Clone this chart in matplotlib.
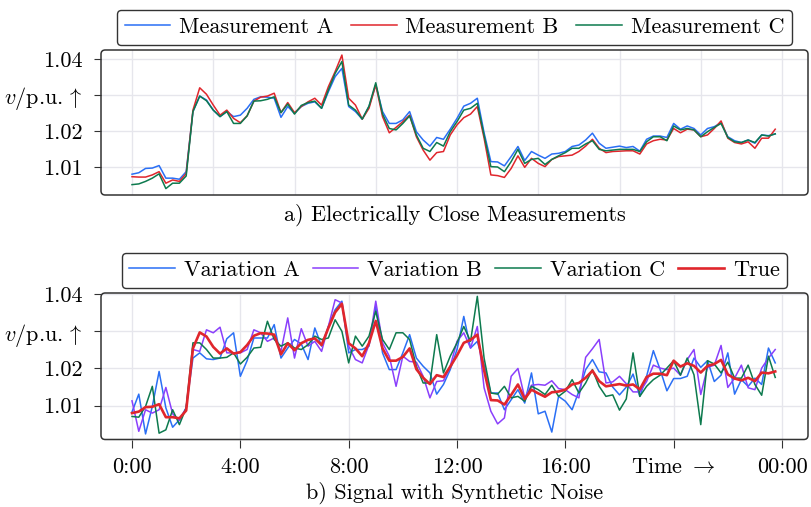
import numpy as np
import matplotlib
matplotlib.use("Agg")
import matplotlib.pyplot as plt
from matplotlib.patches import FancyBboxPatch

plt.rcParams['font.family'] = 'cmr10'
plt.rcParams['mathtext.fontset'] = 'cm'
plt.rcParams['axes.unicode_minus'] = False
plt.rcParams['axes.formatter.use_mathtext'] = True

# 15 minute samples over one day
hours = np.arange(96) / 4

# a) three measurements at electrically close nodes
meas_a = [1.0080, 1.0084, 1.0096, 1.0097, 1.0104, 1.0069, 1.0069, 1.0066, 1.0087, 1.0254,
          1.0297, 1.0286, 1.0258, 1.0240, 1.0254, 1.0240, 1.0244, 1.0263, 1.0288, 1.0295,
          1.0294, 1.0291, 1.0238, 1.0268, 1.0249, 1.0268, 1.0277, 1.0281, 1.0263, 1.0309,
          1.0351, 1.0374, 1.0268, 1.0254, 1.0233, 1.0268, 1.0328, 1.0254, 1.0221, 1.0221,
          1.0231, 1.0254, 1.0198, 1.0175, 1.0158, 1.0182, 1.0177, 1.0205, 1.0235, 1.0269,
          1.0277, 1.0291, 1.0195, 1.0115, 1.0114, 1.0103, 1.0129, 1.0157, 1.0118, 1.0143,
          1.0133, 1.0124, 1.0136, 1.0138, 1.0143, 1.0157, 1.0161, 1.0175, 1.0194, 1.0166,
          1.0152, 1.0155, 1.0158, 1.0154, 1.0157, 1.0144, 1.0177, 1.0186, 1.0186, 1.0182,
          1.0221, 1.0205, 1.0214, 1.0207, 1.0189, 1.0207, 1.0212, 1.0223, 1.0184, 1.0173,
          1.0168, 1.0175, 1.0166, 1.0189, 1.0187, 1.0192]
meas_b = [1.0073, 1.0072, 1.0072, 1.0078, 1.0087, 1.0055, 1.0064, 1.0060, 1.0082, 1.0258,
          1.0320, 1.0302, 1.0272, 1.0244, 1.0258, 1.0235, 1.0223, 1.0242, 1.0283, 1.0294,
          1.0297, 1.0305, 1.0251, 1.0279, 1.0251, 1.0268, 1.0281, 1.0291, 1.0272, 1.0323,
          1.0365, 1.0411, 1.0291, 1.0272, 1.0233, 1.0263, 1.0328, 1.0240, 1.0195, 1.0210,
          1.0226, 1.0244, 1.0184, 1.0147, 1.0119, 1.0140, 1.0143, 1.0189, 1.0217, 1.0237,
          1.0247, 1.0268, 1.0180, 1.0078, 1.0076, 1.0071, 1.0096, 1.0131, 1.0099, 1.0124,
          1.0110, 1.0101, 1.0121, 1.0129, 1.0131, 1.0133, 1.0143, 1.0158, 1.0177, 1.0152,
          1.0140, 1.0143, 1.0144, 1.0145, 1.0145, 1.0136, 1.0164, 1.0173, 1.0177, 1.0175,
          1.0207, 1.0195, 1.0205, 1.0203, 1.0184, 1.0189, 1.0207, 1.0228, 1.0180, 1.0168,
          1.0164, 1.0170, 1.0152, 1.0180, 1.0180, 1.0205]
meas_c = [1.0051, 1.0053, 1.0060, 1.0069, 1.0081, 1.0040, 1.0055, 1.0055, 1.0075, 1.0254,
          1.0297, 1.0284, 1.0258, 1.0240, 1.0254, 1.0221, 1.0221, 1.0242, 1.0283, 1.0284,
          1.0288, 1.0295, 1.0251, 1.0275, 1.0247, 1.0271, 1.0279, 1.0283, 1.0263, 1.0314,
          1.0360, 1.0393, 1.0272, 1.0258, 1.0233, 1.0269, 1.0334, 1.0247, 1.0207, 1.0203,
          1.0221, 1.0242, 1.0189, 1.0152, 1.0143, 1.0168, 1.0158, 1.0198, 1.0226, 1.0258,
          1.0263, 1.0277, 1.0188, 1.0101, 1.0100, 1.0087, 1.0115, 1.0149, 1.0110, 1.0121,
          1.0124, 1.0107, 1.0121, 1.0131, 1.0140, 1.0152, 1.0152, 1.0164, 1.0173, 1.0149,
          1.0145, 1.0147, 1.0149, 1.0149, 1.0149, 1.0143, 1.0170, 1.0184, 1.0184, 1.0173,
          1.0214, 1.0203, 1.0207, 1.0203, 1.0184, 1.0198, 1.0210, 1.0221, 1.0182, 1.0170,
          1.0168, 1.0175, 1.0168, 1.0189, 1.0186, 1.0192]

# b) noisy variations of the true signal
true_v = list(meas_a)
var_a = [1.0083, 1.0131, 1.0024, 1.0098, 1.0192, 1.0094, 1.0042, 1.0062, 1.0094, 1.0228,
         1.0242, 1.0226, 1.0224, 1.0228, 1.0280, 1.0296, 1.0179, 1.0221, 1.0282, 1.0282,
         1.0282, 1.0318, 1.0228, 1.0255, 1.0278, 1.0266, 1.0224, 1.0309, 1.0260, 1.0313,
         1.0358, 1.0381, 1.0242, 1.0251, 1.0251, 1.0260, 1.0367, 1.0242, 1.0197, 1.0197,
         1.0242, 1.0291, 1.0228, 1.0206, 1.0188, 1.0131, 1.0157, 1.0197, 1.0251, 1.0340,
         1.0255, 1.0273, 1.0210, 1.0134, 1.0134, 1.0089, 1.0116, 1.0143, 1.0107, 1.0188,
         1.0078, 1.0085, 1.0029, 1.0125, 1.0112, 1.0089, 1.0139, 1.0197, 1.0224, 1.0191,
         1.0188, 1.0150, 1.0129, 1.0150, 1.0185, 1.0125, 1.0179, 1.0248, 1.0197, 1.0140,
         1.0173, 1.0173, 1.0179, 1.0228, 1.0203, 1.0221, 1.0165, 1.0182, 1.0242, 1.0131,
         1.0170, 1.0152, 1.0174, 1.0157, 1.0255, 1.0215]
var_b = [1.0113, 1.0031, 1.0089, 1.0080, 1.0089, 1.0149, 1.0078, 1.0060, 1.0094, 1.0251,
         1.0246, 1.0304, 1.0296, 1.0311, 1.0242, 1.0242, 1.0242, 1.0251, 1.0304, 1.0296,
         1.0273, 1.0282, 1.0246, 1.0336, 1.0228, 1.0307, 1.0260, 1.0273, 1.0246, 1.0313,
         1.0385, 1.0376, 1.0260, 1.0224, 1.0215, 1.0264, 1.0381, 1.0269, 1.0233, 1.0152,
         1.0233, 1.0219, 1.0217, 1.0179, 1.0121, 1.0165, 1.0167, 1.0206, 1.0273, 1.0296,
         1.0255, 1.0313, 1.0148, 1.0085, 1.0051, 1.0067, 1.0179, 1.0200, 1.0121, 1.0155,
         1.0157, 1.0155, 1.0167, 1.0146, 1.0143, 1.0130, 1.0121, 1.0230, 1.0253, 1.0278,
         1.0161, 1.0164, 1.0179, 1.0159, 1.0137, 1.0137, 1.0165, 1.0209, 1.0201, 1.0197,
         1.0201, 1.0182, 1.0224, 1.0251, 1.0130, 1.0203, 1.0209, 1.0262, 1.0149, 1.0174,
         1.0209, 1.0148, 1.0143, 1.0201, 1.0228, 1.0251]
var_c = [1.0071, 1.0069, 1.0098, 1.0152, 1.0026, 1.0035, 1.0089, 1.0049, 1.0094, 1.0269,
         1.0269, 1.0251, 1.0228, 1.0228, 1.0230, 1.0242, 1.0212, 1.0230, 1.0255, 1.0257,
         1.0327, 1.0278, 1.0260, 1.0269, 1.0255, 1.0251, 1.0264, 1.0287, 1.0278, 1.0282,
         1.0331, 1.0300, 1.0215, 1.0287, 1.0260, 1.0287, 1.0354, 1.0278, 1.0251, 1.0296,
         1.0296, 1.0278, 1.0206, 1.0161, 1.0161, 1.0291, 1.0188, 1.0233, 1.0269, 1.0313,
         1.0273, 1.0394, 1.0228, 1.0134, 1.0131, 1.0152, 1.0121, 1.0125, 1.0112, 1.0152,
         1.0143, 1.0130, 1.0155, 1.0125, 1.0139, 1.0170, 1.0134, 1.0161, 1.0197, 1.0152,
         1.0125, 1.0129, 1.0088, 1.0118, 1.0242, 1.0125, 1.0152, 1.0170, 1.0182, 1.0201,
         1.0221, 1.0182, 1.0228, 1.0183, 1.0049, 1.0221, 1.0212, 1.0188, 1.0217, 1.0174,
         1.0174, 1.0209, 1.0157, 1.0128, 1.0233, 1.0176]

BLUE = '#2a6ff5'
RED = '#e0262c'
GREEN = '#0d7a4e'
PURPLE = '#8a3ffc'
FS = 16

fig = plt.figure(figsize=(8.11, 5.07), dpi=100)
W, H = 811, 507
ax1 = fig.add_axes([101 / W, 1 - 195 / H, 707 / W, 145 / H])
ax2 = fig.add_axes([101 / W, 1 - 439.5 / H, 707 / W, 146.5 / H])


def style(ax, ylim):
    ax.set_xlim(-1.145, 24.96)
    ax.set_ylim(*ylim)
    ax.set_yticks([1.01, 1.02, 1.03, 1.04])
    ax.set_yticklabels(['1.01', '1.02', r'$v$/p.u.$\,\uparrow$', '1.04'])
    ax.grid(True, color='#e6e6ec', lw=1.0)
    ax.set_axisbelow(True)
    for s in ax.spines.values():
        s.set_visible(False)
    bb = ax.get_position()
    aspect = (bb.width * W) / (bb.height * H)
    frame = FancyBboxPatch((0, 0), 1, 1, boxstyle='round,pad=0,rounding_size=0.006',
                           mutation_aspect=aspect, transform=ax.transAxes,
                           fill=False, ec='#333333', lw=1.1, clip_on=False, zorder=5)
    ax.add_patch(frame)
    ax.tick_params(axis='y', length=5, width=0.8, pad=8, labelsize=FS, color='#333333')


style(ax1, (1.00222, 1.0425))
ax1.set_xticks(np.arange(0, 25, 3))
ax1.tick_params(axis='x', length=0, labelbottom=False)
ax1.plot(hours, meas_a, color=BLUE, lw=1.1, label='Measurement A')
ax1.plot(hours, meas_b, color=RED, lw=1.1, label='Measurement B')
ax1.plot(hours, meas_c, color=GREEN, lw=1.1, label='Measurement C')

style(ax2, (1.0009, 1.0403))
ax2.set_xticks(np.arange(0, 25, 4))
ax2.set_xticklabels(['0:00', '4:00', '8:00', '12:00', '16:00', r'Time $\rightarrow$', '00:00'])
ax2.tick_params(axis='x', length=6, width=0.8, pad=7, labelsize=FS, color='#333333')
ax2.plot(hours, var_a, color=BLUE, lw=1.1, label='Variation A')
ax2.plot(hours, var_b, color=PURPLE, lw=1.1, label='Variation B')
ax2.plot(hours, var_c, color=GREEN, lw=1.1, label='Variation C')
ax2.plot(hours, true_v, color=RED, lw=1.9, label='True')

for ax, gap, ncol, cs in [(ax1, 5 / 145, 3, 0.8), (ax2, 5 / 146.5, 4, 0.6)]:
    leg = ax.legend(loc='lower center', bbox_to_anchor=(0.5, 1 + gap), ncol=ncol,
                    fontsize=FS, handlelength=2.05, handletextpad=0.4,
                    columnspacing=cs, borderpad=0.35, borderaxespad=0,
                    fancybox=True, framealpha=1, edgecolor='#333333')
    leg.get_frame().set_linewidth(1.0)

fig.text(455 / W, 1 - 215 / H, 'a) Electrically Close Measurements',
         ha='center', va='center', fontsize=FS)
fig.text(455 / W, 1 - 493 / H, 'b) Signal with Synthetic Noise',
         ha='center', va='center', fontsize=FS)

fig.savefig('out.png', dpi=100)
